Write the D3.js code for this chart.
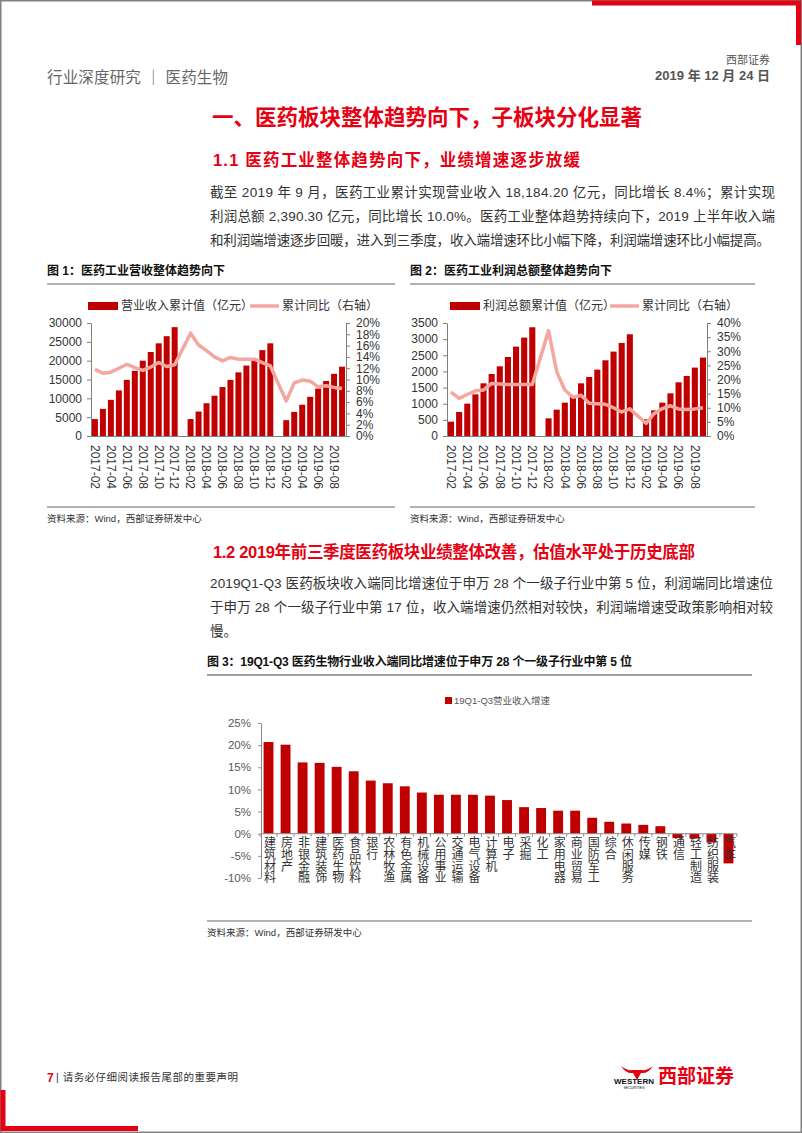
<!DOCTYPE html>
<html><head><meta charset="utf-8">
<script src="https://cdn.jsdelivr.net/npm/d3@7/dist/d3.min.js"></script>
<style>
body{margin:0;background:#fff}
svg{display:block}
text{font-family:"Liberation Sans",Arial,"Noto Sans CJK SC",sans-serif}
</style>
</head><body>
<svg id="page" width="802" height="1133"></svg>
<script>
// ---------- DATA ----------
const months = ["2017-02","2017-03","2017-04","2017-05","2017-06","2017-07","2017-08","2017-09","2017-10","2017-11","2017-12",
  "2018-01","2018-02","2018-03","2018-04","2018-05","2018-06","2018-07","2018-08","2018-09","2018-10","2018-11","2018-12",
  "2019-01","2019-02","2019-03","2019-04","2019-05","2019-06","2019-07","2019-08","2019-09"];
const monthTicks = ["2017-02","2017-04","2017-06","2017-08","2017-10","2017-12","2018-02","2018-04","2018-06","2018-08","2018-10","2018-12","2019-02","2019-04","2019-06","2019-08"];
const revenue = [4500,7200,9600,12100,14900,17300,20000,22300,24600,26500,28900,
  null,4500,6500,8700,10700,13000,14900,16900,18700,20600,22800,24600,
  null,4200,6400,8300,10400,12600,14600,16500,18400];
const revenueYoY = [11.8,11.1,11.3,12.0,12.7,12.1,11.6,12.2,13.0,12.3,12.6,
  null,18.2,16.1,15.1,14.0,13.3,13.9,13.6,13.6,13.6,13.0,12.4,
  null,6.2,9.4,9.9,9.7,8.7,8.9,8.6,8.4];
const profit = [444,744,1002,1291,1632,1921,2159,2448,2769,3048,3368,
  null,548,816,1033,1240,1632,1829,2056,2345,2614,2882,3151,
  null,517,795,1033,1322,1663,1860,2118,2428];
const profitYoY = [15.5,13.3,14.7,16.0,16.3,18.6,18.4,18.2,18.2,18.2,18.2,
  null,37.3,22.8,16.3,13.7,14.4,11.6,11.4,11.2,10.0,8.5,9.6,
  null,4.5,8.0,9.7,10.7,9.6,9.4,9.6,10.0];
const revTicks = [0,5000,10000,15000,20000,25000,30000];
const revPctTicks = [0,2,4,6,8,10,12,14,16,18,20];
const profitTicks = [0,500,1000,1500,2000,2500,3000,3500];
const profitPctTicks = [0,5,10,15,20,25,30,35,40];
const industries = ["建筑材料","房地产","非银金融","建筑装饰","医药生物","食品饮料","银行","农林牧渔","有色金属","机械设备",
  "公用事业","交通运输","电气设备","计算机","电子","采掘","化工","家用电器","商业贸易","国防军工",
  "综合","休闲服务","传媒","钢铁","通信","轻工制造","纺织服装","汽车"];
const industryGrowth = [20.7,20.1,16.1,16.0,15.1,14.1,12.0,11.4,10.7,9.3,
  8.8,8.8,8.8,8.6,7.6,6.0,5.8,5.2,5.2,3.6,
  2.7,2.3,2.0,1.7,-1.0,-1.1,-2.0,-6.7];
const growthTicks = [-10,-5,0,5,10,15,20,25];

// ---------- STYLE ----------
const RED = "#E60012", BAR = "#C00000", LINE = "#F4A7A0", TXT = "#333";
const svg = d3.select("#page");

// page frame and corner marks
svg.append("rect").attr("x",0.75).attr("y",0.75).attr("width",800.5).attr("height",1131.5)
  .attr("fill","none").attr("stroke","#808080").attr("stroke-width",1.5);
svg.append("path").attr("d","M592,3H798.5V45").attr("fill","none").attr("stroke",RED).attr("stroke-width",5);
svg.append("path").attr("d","M3,1090V1128.5H138").attr("fill","none").attr("stroke",RED).attr("stroke-width",5);

function txt(x,y,s,o={}){
  const t = svg.append("text").attr("x",x).attr("y",y).text(s)
    .attr("font-size",o.size||13.5).attr("fill",o.fill||TXT)
    .attr("font-weight",o.weight||"normal").attr("text-anchor",o.anchor||"start");
  if(o.len) t.attr("textLength",o.len).attr("lengthAdjust","spacing");
  return t;
}

// header
txt(47,83,"行业深度研究 ｜ 医药生物",{size:15.5,fill:"#666",len:181});
txt(770,64,"西部证券",{size:11,fill:"#555",anchor:"end"});
txt(770,80,"2019 年 12 月 24 日",{size:13,fill:"#555",anchor:"end",weight:"bold"});

// headings and paragraph 1
txt(212,125,"一、医药板块整体趋势向下，子板块分化显著",{size:21.5,fill:RED,weight:"bold"});
txt(213,166,"1.1  医药工业整体趋势向下，业绩增速逐步放缓",{size:16.5,fill:RED,weight:"bold",len:367});
txt(210,197,"截至 2019 年 9 月，医药工业累计实现营业收入 18,184.20 亿元，同比增长 8.4%；累计实现",{len:565});
txt(210,221,"利润总额 2,390.30 亿元，同比增长 10.0%。医药工业整体趋势持续向下，2019 上半年收入端",{len:565});
txt(210,245,"和利润端增速逐步回暖，进入到三季度，收入端增速环比小幅下降，利润端增速环比小幅提高。",{len:560});

// ---------- dual-axis chart ----------
function dualChart(o){
  txt(o.tx,275,o.title,{size:12,fill:"#111",weight:"bold"});
  svg.append("line").attr("x1",o.tx).attr("x2",o.tx2).attr("y1",284).attr("y2",284).attr("stroke","#9a9a9a").attr("stroke-width",1.5);
  svg.append("line").attr("x1",o.tx).attr("x2",o.tx2).attr("y1",507).attr("y2",507).attr("stroke","#9a9a9a").attr("stroke-width",1.5);
  txt(o.tx,522,"资料来源：Wind，西部证券研发中心",{size:9.5});

  const x = d3.scaleBand().domain(months).range([o.x0,o.x1]).paddingInner(0.25).paddingOuter(0.12);
  const yL = d3.scaleLinear().domain([0,o.maxL]).range([436,323]);
  const yR = d3.scaleLinear().domain([0,o.maxR]).range([436,323]);
  const g = svg.append("g");

  // bars
  g.selectAll("rect.bar").data(months.map((m,i)=>({m,v:o.bars[i]})).filter(d=>d.v!=null))
    .enter().append("rect").attr("class","bar")
    .attr("x",d=>x(d.m)).attr("width",x.bandwidth())
    .attr("y",d=>yL(d.v)).attr("height",d=>yL(0)-yL(d.v)).attr("fill",BAR);

  // line
  const pts = months.map((m,i)=>({m,v:o.line[i]})).filter(d=>d.v!=null);
  g.append("path").datum(pts).attr("fill","none").attr("stroke",LINE).attr("stroke-width",3.5)
    .attr("stroke-linejoin","round")
    .attr("d",d3.line().x(d=>x(d.m)+x.bandwidth()/2).y(d=>yR(d.v)));

  // axes
  const ax = svg.append("g").attr("transform",`translate(${o.x0},0)`)
    .call(d3.axisLeft(yL).tickValues(o.ticksL).tickSize(4).tickPadding(5).tickSizeOuter(0).tickFormat(d3.format("d")));
  const ar = svg.append("g").attr("transform",`translate(${o.x1},0)`)
    .call(d3.axisRight(yR).tickValues(o.ticksR).tickSize(4).tickPadding(6).tickSizeOuter(0).tickFormat(d=>d+"%"));
  const ab = svg.append("g").attr("transform",`translate(0,436)`)
    .call(d3.axisBottom(x).tickValues(monthTicks).tickSize(0).tickPadding(0));
  [ax,ar,ab].forEach(a=>{
    a.selectAll("path.domain").attr("stroke","#7f7f7f");
    a.selectAll("line").attr("stroke","#7f7f7f");
    a.selectAll("text").attr("font-size",12).attr("fill",TXT).attr("font-family",null);
  });
  ab.selectAll("text").attr("y",0).attr("x",9).attr("dy",".35em")
    .attr("transform","rotate(90)").style("text-anchor","start");

  // legend
  svg.append("rect").attr("x",o.lg1).attr("y",302).attr("width",30).attr("height",8).attr("fill",BAR);
  txt(o.lg1+33,310,o.barName,{size:12});
  svg.append("line").attr("x1",o.lg2).attr("x2",o.lg2+29).attr("y1",306).attr("y2",306).attr("stroke",LINE).attr("stroke-width",3.5);
  txt(o.lg2+32,310,"累计同比（右轴）",{size:12});
}

dualChart({title:"图 1：医药工业营收整体趋势向下",tx:47,tx2:395,x0:91,x1:346,
  bars:revenue,line:revenueYoY,maxL:30000,maxR:20,ticksL:revTicks,ticksR:revPctTicks,
  lg1:88,lg2:250,barName:"营业收入累计值（亿元）"});
dualChart({title:"图 2：医药工业利润总额整体趋势向下",tx:410,tx2:755,x0:447,x1:707,
  bars:profit,line:profitYoY,maxL:3500,maxR:40,ticksL:profitTicks,ticksR:profitPctTicks,
  lg1:450,lg2:610,barName:"利润总额累计值（亿元）"});

// ---------- section 1.2 ----------
txt(213,558,"1.2 2019年前三季度医药板块业绩整体改善，估值水平处于历史底部",{size:16.5,fill:RED,weight:"bold",len:482});
txt(210,588,"2019Q1-Q3 医药板块收入端同比增速位于申万 28 个一级子行业中第 5 位，利润端同比增速位",{len:563});
txt(210,612,"于申万 28 个一级子行业中第 17 位，收入端增速仍然相对较快，利润端增速受政策影响相对较",{len:563});
txt(210,636,"慢。");

// ---------- figure 3 ----------
txt(207,666,"图 3：19Q1-Q3 医药生物行业收入端同比增速位于申万 28 个一级子行业中第 5 位",{size:12,fill:"#111",weight:"bold",len:425});
svg.append("line").attr("x1",207).attr("x2",752).attr("y1",675).attr("y2",675).attr("stroke","#444").attr("stroke-width",1.2);
svg.append("line").attr("x1",207).attr("x2",752).attr("y1",921).attr("y2",921).attr("stroke","#9a9a9a").attr("stroke-width",1.5);
txt(207,936,"资料来源：Wind，西部证券研发中心",{size:9.5});

const x3 = d3.scaleBand().domain(industries).range([260,737]).paddingInner(0.42).paddingOuter(0.21);
const y3 = d3.scaleLinear().domain([-10,25]).range([878,723]);
svg.append("g").selectAll("rect").data(industries.map((n,i)=>({n,v:industryGrowth[i]}))).enter().append("rect")
  .attr("x",d=>x3(d.n)).attr("width",x3.bandwidth())
  .attr("y",d=>y3(Math.max(0,d.v))).attr("height",d=>Math.abs(y3(d.v)-y3(0))).attr("fill",BAR);

const a3 = svg.append("g").attr("transform","translate(261,0)")
  .call(d3.axisLeft(y3).tickValues(growthTicks).tickSize(3).tickPadding(7).tickSizeOuter(0).tickFormat(d=>d+"%"));
a3.selectAll("path.domain,line").attr("stroke","#8c8c8c");
a3.selectAll("text").attr("font-size",11.5).attr("fill","#595959").attr("font-family",null);

// zero line with ticks between categories
const zero = y3(0);
svg.append("line").attr("x1",261).attr("x2",737).attr("y1",zero).attr("y2",zero).attr("stroke","#8c8c8c");
const step = x3.step();
svg.append("g").selectAll("line").data(d3.range(industries.length+1)).enter().append("line")
  .attr("x1",i=>x3.range()[0]+i*step).attr("x2",i=>x3.range()[0]+i*step)
  .attr("y1",zero).attr("y2",zero+3).attr("stroke","#8c8c8c");

// vertical category labels (one text each, vertical writing mode)
svg.append("g").selectAll("text").data(industries).enter().append("text")
  .attr("x",n=>x3(n)+x3.bandwidth()/2).attr("y",zero+3)
  .attr("writing-mode","vertical-rl").attr("letter-spacing",-0.3)
  .attr("font-size",12).attr("fill",TXT).text(n=>n);

// legend fig 3
svg.append("rect").attr("x",445).attr("y",697).attr("width",7).attr("height",7).attr("fill",BAR);
txt(454,704,"19Q1-Q3营业收入增速",{size:9.5,fill:"#555"});

// ---------- footer ----------
txt(47,1082,"7",{size:12,fill:RED,weight:"bold"});
txt(56,1081,"| 请务必仔细阅读报告尾部的重要声明",{size:10.5,fill:TXT,len:182});
// logo
svg.append("path").attr("d","M621,1066 Q626,1074 633,1073 L637,1080 L641,1073 Q648,1074 653,1066 Q647,1071 641,1070 L633,1070 Q627,1071 621,1066Z").attr("fill",RED);
txt(634,1084,"WESTERN",{size:8,fill:"#111",weight:"bold",anchor:"middle"});
txt(634,1089,"SECURITIES",{size:3.5,fill:"#111",anchor:"middle"});
txt(658,1083,"西部证券",{size:19,fill:RED,weight:"bold"});
</script>
</body></html>
